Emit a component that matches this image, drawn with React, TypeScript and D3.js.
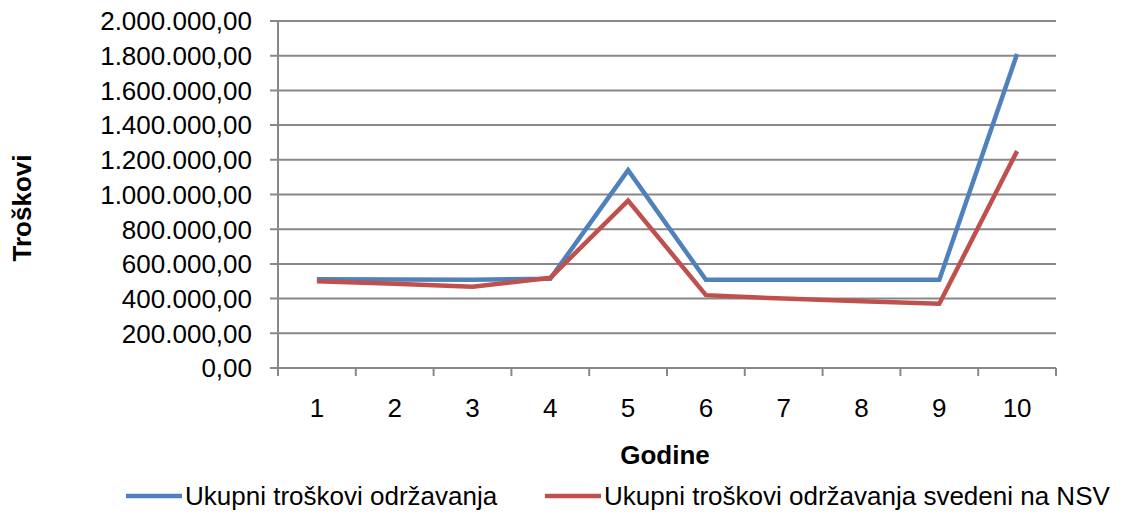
import React from "react";
import * as d3 from "d3";

const years = ["1", "2", "3", "4", "5", "6", "7", "8", "9", "10"];
const ukupni = [512000, 510000, 508000, 515000, 1140000, 508000, 508000, 508000, 508000, 1810000];
const svedeni = [500000, 485000, 468000, 520000, 965000, 420000, 400000, 385000, 370000, 1250000];
const yTicks = [0, 200000, 400000, 600000, 800000, 1000000, 1200000, 1400000, 1600000, 1800000, 2000000];
const seriesNames = ["Ukupni troškovi održavanja", "Ukupni troškovi održavanja svedeni na NSV"];
const seriesColors = ["#4F81BD", "#C0504D"];

const W = 1122;
const H = 516;
const left = 278;
const right = 1056;
const top = 21;
const bottom = 368;

const fmt = (v: number) => {
  const s = Math.round(v).toString().replace(/\B(?=(\d{3})+(?!\d))/g, ".");
  return s + ",00";
};

export default function App() {
  const x = d3.scaleBand<string>().domain(years).range([left, right]).padding(0);
  const y = d3.scaleLinear().domain([0, 2000000]).range([bottom, top]);
  const line = d3
    .line<number>()
    .x((_, i) => (x(years[i]) as number) + x.bandwidth() / 2)
    .y((d) => y(d));
  const grid = "#888888";
  const font = "'Liberation Sans', Arial, sans-serif";
  const boundaries = years.map((yr) => (x(yr) as number) + x.bandwidth());
  return (
    <svg width={W} height={H} style={{ position: "absolute", left: 0, top: 0, background: "#fff" }} fontFamily={font}>
      {yTicks.map((t) => (
        <g key={t}>
          <line x1={left - 8} x2={right} y1={y(t)} y2={y(t)} stroke={grid} strokeWidth={2} />
          <text x={252} y={y(t)} dy="0.36em" textAnchor="end" fontSize={26} fill="#000">
            {fmt(t)}
          </text>
        </g>
      ))}
      <line x1={left} x2={left} y1={top} y2={bottom + 8} stroke={grid} strokeWidth={2} />
      {boundaries.map((b, i) => (
        <line key={i} x1={b} x2={b} y1={bottom} y2={bottom + 8} stroke={grid} strokeWidth={2} />
      ))}
      {years.map((yr) => (
        <text key={yr} x={(x(yr) as number) + x.bandwidth() / 2} y={408} dy="0.36em" textAnchor="middle" fontSize={26} fill="#000">
          {yr}
        </text>
      ))}
      <path d={line(ukupni) || ""} fill="none" stroke={seriesColors[0]} strokeWidth={4.5} />
      <path d={line(svedeni) || ""} fill="none" stroke={seriesColors[1]} strokeWidth={4.5} />
      <text x={665} y={455} dy="0.36em" textAnchor="middle" fontSize={26} fontWeight="bold" fill="#000">
        Godine
      </text>
      <text transform={`translate(22,208) rotate(-90)`} dy="0.36em" textAnchor="middle" fontSize={26} fontWeight="bold" fill="#000">
        Troškovi
      </text>
      <line x1={126} x2={182} y1={496} y2={496} stroke={seriesColors[0]} strokeWidth={4.5} />
      <text x={185} y={496} dy="0.36em" fontSize={26} fill="#000">
        {seriesNames[0]}
      </text>
      <line x1={545} x2={601} y1={496} y2={496} stroke={seriesColors[1]} strokeWidth={4.5} />
      <text x={604} y={496} dy="0.36em" fontSize={26} fill="#000">
        {seriesNames[1]}
      </text>
    </svg>
  );
}
